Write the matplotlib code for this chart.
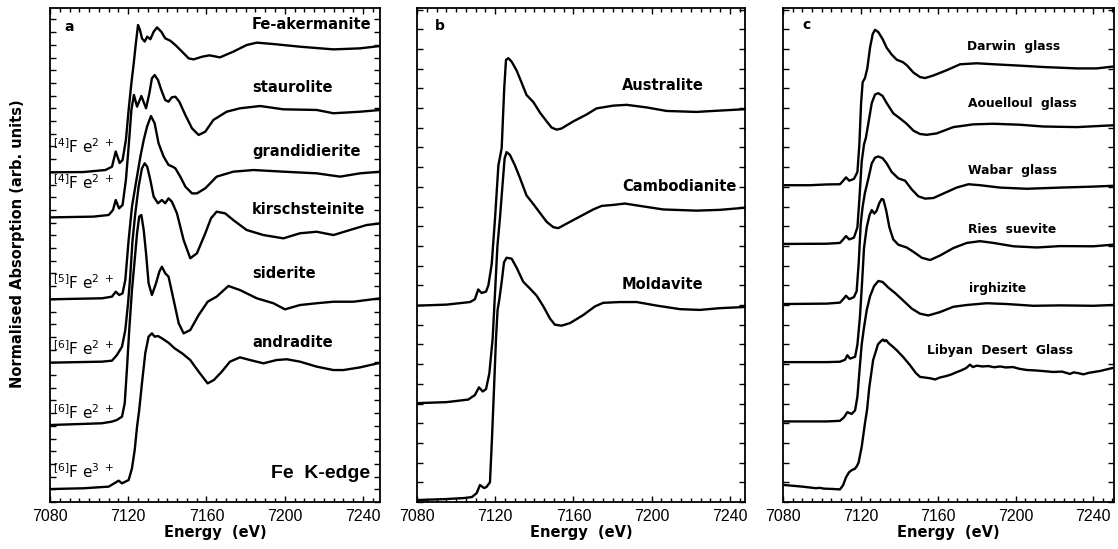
import matplotlib
matplotlib.use("Agg")
import matplotlib.pyplot as plt
from matplotlib.ticker import MultipleLocator

plt.rcParams['font.family'] = ['Liberation Sans', 'DejaVu Sans']
plt.rcParams['mathtext.fontset'] = 'dejavusans'

# ---- panel a: model compounds (energy eV, absorption arb. units incl. offset)
akermanite = [(7080, 2.596), (7097, 2.598), (7108.3, 2.614), (7111.7, 2.640), (7113.6, 2.760),
              (7115.6, 2.669), (7117.1, 2.693), (7118.8, 2.850), (7120.2, 3.087), (7121.6, 3.297),
              (7122.8, 3.454), (7123.9, 3.612), (7125.0, 3.756), (7126.0, 3.717), (7127.0, 3.651),
              (7128.4, 3.625), (7129.7, 3.664), (7131.3, 3.644), (7133.0, 3.703), (7134.7, 3.737),
              (7136.9, 3.703), (7138.9, 3.651), (7141.5, 3.632), (7144.1, 3.598), (7147.5, 3.546),
              (7150.9, 3.493), (7153.4, 3.485), (7157.7, 3.506), (7161.5, 3.517), (7166.9, 3.501),
              (7173.7, 3.546), (7180.5, 3.598), (7185.7, 3.617), (7194.2, 3.606), (7207.8, 3.585),
              (7224.9, 3.564), (7238.5, 3.572), (7249, 3.591)]
staurolite = [(7080, 2.241), (7102.2, 2.247), (7110.0, 2.260), (7112.2, 2.299), (7113.6, 2.378),
              (7115.3, 2.312), (7117.1, 2.339), (7118.8, 2.535), (7120.2, 2.798), (7121.6, 3.087),
              (7122.9, 3.205), (7124.5, 3.113), (7126.7, 3.197), (7129.1, 3.100), (7130.8, 3.218),
              (7132.1, 3.336), (7133.5, 3.362), (7135.2, 3.323), (7136.9, 3.244), (7138.9, 3.165),
              (7140.6, 3.152), (7142.3, 3.187), (7144.1, 3.191), (7146.1, 3.152), (7149.2, 3.047),
              (7152.6, 2.942), (7156.0, 2.890), (7159.4, 2.916), (7163.5, 3.008), (7170.3, 3.073),
              (7177.1, 3.100), (7187.4, 3.118), (7199.3, 3.092), (7216.3, 3.087), (7224.9, 3.061),
              (7238.5, 3.073), (7249, 3.087)]
grandidierite = [(7080, 1.596), (7106.6, 1.604), (7111.7, 1.617), (7113.6, 1.656), (7115.4, 1.630),
                 (7117.1, 1.643), (7118.5, 1.748), (7120.2, 2.063), (7121.9, 2.325), (7123.6, 2.483),
                 (7126.2, 2.719), (7127.9, 2.850), (7129.6, 2.955), (7131.6, 3.039), (7133.5, 2.982),
                 (7135.5, 2.824), (7138.1, 2.719), (7140.6, 2.654), (7142.7, 2.640), (7144.1, 2.627),
                 (7146.6, 2.562), (7149.2, 2.483), (7152.6, 2.430), (7155.1, 2.430), (7159.4, 2.470),
                 (7165.2, 2.562), (7173.7, 2.601), (7184.0, 2.614), (7199.3, 2.601), (7216.3, 2.588),
                 (7228.3, 2.562), (7238.5, 2.588), (7249, 2.601)]
kirschsteinite = [(7080, 1.097), (7106.6, 1.105), (7111.7, 1.113), (7114.2, 1.157), (7116.8, 1.223),
                  (7118.5, 1.354), (7119.9, 1.565), (7121.0, 1.774), (7122.2, 2.063), (7123.6, 2.273),
                  (7125.3, 2.483), (7127.0, 2.627), (7128.4, 2.667), (7129.7, 2.640), (7131.3, 2.535),
                  (7133.0, 2.404), (7135.2, 2.352), (7137.2, 2.378), (7138.9, 2.352), (7140.6, 2.391),
                  (7142.3, 2.365), (7144.9, 2.273), (7148.3, 2.063), (7151.7, 1.919), (7155.1, 1.958),
                  (7159.4, 2.116), (7162.3, 2.234), (7165.2, 2.286), (7169.5, 2.273), (7173.7, 2.220),
                  (7180.5, 2.142), (7189.1, 2.102), (7199.3, 2.076), (7207.8, 2.116), (7216.3, 2.128),
                  (7224.9, 2.102), (7233.4, 2.142), (7241.9, 2.181), (7249, 2.194)]
siderite = [(7080, 0.606), (7106.6, 0.620), (7111.7, 0.633), (7114.2, 0.646), (7116.8, 0.672),
            (7118.2, 0.777), (7119.3, 1.039), (7120.5, 1.354), (7121.9, 1.669), (7123.3, 1.906),
            (7124.5, 2.116), (7125.6, 2.247), (7126.7, 2.260), (7127.9, 2.142), (7129.1, 1.958),
            (7130.4, 1.722), (7132.1, 1.630), (7134.2, 1.722), (7135.9, 1.814), (7137.2, 1.853),
            (7138.9, 1.801), (7140.6, 1.774), (7143.2, 1.591), (7145.8, 1.407), (7148.3, 1.328),
            (7151.7, 1.354), (7156.0, 1.472), (7160.6, 1.577), (7165.2, 1.617), (7171.2, 1.701),
            (7177.1, 1.669), (7185.7, 1.604), (7194.2, 1.565), (7200.1, 1.517), (7207.8, 1.551),
            (7216.3, 1.565), (7224.9, 1.577), (7235.1, 1.577), (7249, 1.604)]
andradite = [(7080, 0.102), (7097.0, 0.108), (7110.0, 0.121), (7113.4, 0.152), (7115.1, 0.168),
             (7116.8, 0.147), (7120.2, 0.173), (7121.9, 0.265), (7123.3, 0.409), (7124.5, 0.593),
             (7125.6, 0.724), (7127.0, 0.934), (7128.7, 1.171), (7130.4, 1.302), (7132.1, 1.328),
             (7133.5, 1.302), (7135.2, 1.307), (7137.2, 1.289), (7140.6, 1.254), (7143.7, 1.210),
             (7147.5, 1.171), (7151.7, 1.118), (7156.0, 1.026), (7160.6, 0.934), (7163.8, 0.961),
             (7167.8, 1.026), (7172.0, 1.105), (7177.1, 1.139), (7182.2, 1.118), (7189.1, 1.092),
             (7195.9, 1.118), (7201.0, 1.124), (7207.8, 1.105), (7216.3, 1.066), (7224.9, 1.039),
             (7230.0, 1.039), (7238.5, 1.060), (7249, 1.097)]

# ---- panel b: tektites
australite = [(7080.7, 0.997), (7095.2, 1.002), (7107.1, 1.015), (7109.6, 1.029), (7111.3, 1.079),
              (7113.0, 1.061), (7115.3, 1.068), (7116.5, 1.100), (7118.2, 1.208), (7119.9, 1.440),
              (7121.6, 1.708), (7123.3, 1.797), (7124.6, 2.101), (7125.5, 2.244), (7126.7, 2.253),
              (7128.4, 2.235), (7130.9, 2.191), (7133.5, 2.128), (7136.0, 2.066), (7139.5, 2.030),
              (7142.9, 1.976), (7146.3, 1.932), (7148.8, 1.901), (7151.4, 1.890), (7153.9, 1.896),
              (7159.9, 1.932), (7166.7, 1.967), (7171.8, 1.998), (7180.3, 2.012), (7187.2, 2.016),
              (7197.4, 2.003), (7207.6, 1.985), (7222.9, 1.980), (7231.4, 1.985), (7248, 1.994)]
cambodianite = [(7080.7, 0.502), (7095.2, 0.507), (7106.2, 0.520), (7109.6, 0.543), (7111.7, 0.582),
                (7113.6, 0.561), (7115.3, 0.573), (7117.0, 0.654), (7118.7, 0.832), (7120.0, 1.083),
                (7121.1, 1.297), (7122.4, 1.440), (7123.8, 1.619), (7124.8, 1.744), (7125.8, 1.776),
                (7127.5, 1.762), (7130.1, 1.708), (7132.6, 1.646), (7136.0, 1.556), (7139.5, 1.512),
                (7142.9, 1.467), (7146.3, 1.422), (7149.7, 1.395), (7152.2, 1.390), (7156.5, 1.413),
                (7163.3, 1.449), (7170.1, 1.485), (7174.4, 1.503), (7180.3, 1.508), (7186.3, 1.515),
                (7194.0, 1.503), (7205.9, 1.485), (7222.9, 1.479), (7234.9, 1.483), (7248, 1.494)]
moldavite = [(7080.5, 0.010), (7095, 0.015), (7104, 0.020), (7108, 0.025), (7110.5, 0.045),
             (7112.2, 0.086), (7114.3, 0.071), (7115.5, 0.076), (7117.3, 0.100), (7118.3, 0.314),
             (7119.4, 0.582), (7120.4, 0.832), (7121.2, 0.975), (7122.1, 1.029), (7123.3, 1.118),
             (7124.5, 1.217), (7125.8, 1.240), (7128.4, 1.235), (7130.9, 1.190), (7134.3, 1.118),
             (7137.8, 1.083), (7141.2, 1.047), (7144.6, 0.993), (7148.0, 0.931), (7150.5, 0.900),
             (7153.9, 0.895), (7158.2, 0.908), (7165.0, 0.949), (7171.0, 0.993), (7175.2, 1.011),
             (7183.7, 1.015), (7192.3, 1.015), (7202.5, 0.997), (7214.4, 0.979), (7224.6, 0.975),
             (7234.9, 0.984), (7248, 0.990)]

# ---- panel c: impact glasses
darwin = [(7081.0, 1.608), (7093.9, 1.608), (7102.5, 1.612), (7109.4, 1.613), (7111.1, 1.631),
          (7112.5, 1.648), (7114.2, 1.631), (7116.6, 1.640), (7118.4, 1.675), (7119.4, 1.815),
          (7120.3, 2.025), (7121.1, 2.131), (7122.3, 2.152), (7123.5, 2.201), (7124.9, 2.306),
          (7126.3, 2.376), (7127.5, 2.397), (7129.2, 2.385), (7131.4, 2.350), (7133.5, 2.306),
          (7136.1, 2.271), (7138.7, 2.245), (7141.8, 2.233), (7143.8, 2.218), (7147.3, 2.180),
          (7150.7, 2.157), (7153.3, 2.152), (7157.6, 2.165), (7164.5, 2.192), (7171.4, 2.222),
          (7180.0, 2.227), (7188.6, 2.222), (7202.3, 2.215), (7214.4, 2.208), (7231.6, 2.201),
          (7241.9, 2.201), (7250, 2.210)]
aouelloul = [(7081.0, 1.310), (7102.5, 1.311), (7109.4, 1.315), (7111.1, 1.333), (7112.5, 1.350),
             (7114.2, 1.333), (7116.6, 1.342), (7118.4, 1.394), (7119.4, 1.535), (7120.6, 1.727),
             (7121.8, 1.815), (7122.8, 1.850), (7124.0, 1.920), (7125.8, 2.025), (7127.5, 2.069),
             (7129.2, 2.075), (7131.4, 2.061), (7133.5, 2.025), (7136.9, 1.973), (7140.4, 1.947),
             (7143.8, 1.920), (7147.3, 1.885), (7150.7, 1.868), (7154.2, 1.864), (7159.3, 1.871),
             (7167.9, 1.903), (7178.2, 1.917), (7188.6, 1.920), (7202.3, 1.915), (7214.4, 1.906),
             (7231.6, 1.903), (7250, 1.912)]
wabar = [(7081.0, 1.005), (7102.5, 1.007), (7109.4, 1.012), (7111.1, 1.030), (7112.5, 1.047),
         (7114.2, 1.030), (7116.6, 1.040), (7118.0, 1.070), (7119.1, 1.219), (7120.1, 1.412),
         (7121.1, 1.500), (7122.3, 1.570), (7124.0, 1.640), (7125.8, 1.719), (7127.5, 1.748),
         (7129.2, 1.754), (7131.4, 1.745), (7133.5, 1.719), (7136.1, 1.675), (7139.5, 1.643),
         (7143.0, 1.631), (7146.4, 1.587), (7149.8, 1.552), (7153.3, 1.540), (7157.6, 1.543),
         (7162.8, 1.566), (7169.6, 1.596), (7175.7, 1.613), (7181.7, 1.608), (7192.0, 1.596),
         (7205.8, 1.590), (7223.0, 1.596), (7240.2, 1.601), (7250, 1.605)]
ries = [(7081.0, 0.710), (7102.5, 0.710), (7109.4, 0.712), (7112.0, 0.722), (7113.2, 0.745),
        (7114.6, 0.728), (7117.2, 0.737), (7118.4, 0.799), (7119.7, 0.939), (7120.8, 1.114),
        (7121.8, 1.289), (7123.2, 1.394), (7124.6, 1.455), (7125.8, 1.482), (7127.1, 1.464),
        (7128.3, 1.478), (7129.7, 1.517), (7130.9, 1.538), (7131.8, 1.535), (7133.2, 1.482),
        (7134.9, 1.394), (7136.9, 1.333), (7139.5, 1.306), (7143.8, 1.292), (7147.3, 1.270),
        (7151.6, 1.240), (7155.9, 1.228), (7161.0, 1.251), (7167.9, 1.289), (7174.8, 1.315),
        (7181.7, 1.324), (7188.6, 1.315), (7198.9, 1.298), (7211.0, 1.292), (7223.0, 1.299),
        (7240.2, 1.298), (7250, 1.306)]
irghizite = [(7081.0, 0.409), (7102.5, 0.409), (7109.4, 0.412), (7111.5, 0.430), (7113.2, 0.456),
             (7115.4, 0.447), (7117.2, 0.465), (7118.4, 0.535), (7119.4, 0.658), (7120.6, 0.799),
             (7121.8, 0.886), (7123.2, 0.974), (7124.9, 1.044), (7127.0, 1.096), (7129.2, 1.122),
             (7131.4, 1.117), (7134.4, 1.088), (7137.8, 1.061), (7142.1, 1.022), (7146.4, 0.982),
             (7150.7, 0.956), (7155.0, 0.947), (7161.0, 0.964), (7167.9, 0.991), (7174.8, 1.000),
             (7185.1, 1.009), (7195.4, 1.005), (7209.2, 0.996), (7223.0, 0.998), (7240.2, 0.996),
             (7250, 1.000)]
libyan = [(7081.0, 0.086), (7090, 0.078), (7097, 0.070), (7099, 0.072), (7101, 0.068), (7106, 0.066),
          (7109.4, 0.064), (7111.0, 0.085), (7112.5, 0.125), (7114.0, 0.150), (7115.5, 0.162),
          (7117.0, 0.168), (7118.0, 0.180), (7119.0, 0.200), (7120.6, 0.280), (7122.3, 0.400),
          (7123.4, 0.470), (7124.5, 0.580), (7126.5, 0.720), (7129.0, 0.800), (7130.4, 0.815),
          (7131.6, 0.825), (7132.4, 0.816), (7133.2, 0.822), (7134.5, 0.806), (7136.5, 0.790),
          (7138.7, 0.770), (7142.1, 0.735), (7145.5, 0.695), (7148.5, 0.655), (7150.7, 0.635),
          (7153, 0.632), (7156, 0.628), (7158.5, 0.622), (7161, 0.632), (7164.5, 0.640),
          (7167, 0.648), (7169.8, 0.660), (7172, 0.668), (7174.5, 0.680), (7176.5, 0.697),
          (7178, 0.685), (7180, 0.692), (7183, 0.688), (7186, 0.690), (7189, 0.684), (7192, 0.688),
          (7195, 0.683), (7198.7, 0.685), (7202, 0.676), (7205.9, 0.670), (7210, 0.668),
          (7215, 0.664), (7219.4, 0.660), (7224, 0.662), (7228, 0.650), (7230, 0.658),
          (7232, 0.655), (7235, 0.648), (7238, 0.656), (7243.6, 0.665), (7250, 0.680)]

# labels: (text, energy, absorption)
names_a = [("Fe-akermanite", 7183.3, 3.756), ("staurolite", 7183.3, 3.260),
           ("grandidierite", 7183.3, 2.756), ("kirschsteinite", 7183.3, 2.307),
           ("siderite", 7183.3, 1.803), ("andradite", 7183.3, 1.252)]
sites_a = [(r"$^{[4]}$F e$^{2\ +}$", 2.795), (r"$^{[4]}$F e$^{2\ +}$", 2.512),
           (r"$^{[5]}$F e$^{2\ +}$", 1.724), (r"$^{[6]}$F e$^{2\ +}$", 1.205),
           (r"$^{[6]}$F e$^{2\ +}$", 0.701), (r"$^{[6]}$F e$^{3\ +}$", 0.236)]
names_b = [("Australite", 7184.8, 2.112), ("Cambodianite", 7184.8, 1.599),
           ("Moldavite", 7184.8, 1.102)]
names_c = [("Darwin  glass", 7175.0, 2.310), ("Aouelloul  glass", 7175.5, 2.025),
           ("Wabar  glass", 7175.5, 1.685), ("Ries  suevite", 7175.5, 1.381),
           ("irghizite", 7176.0, 1.086), ("Libyan  Desert  Glass", 7154.3, 0.767)]

W, H = 1118, 549
fig = plt.figure(figsize=(W / 100, H / 100), dpi=100)
ax_a = fig.add_axes([50 / W, 47 / H, 330 / W, 494 / H])
ax_b = fig.add_axes([417 / W, 47 / H, 328 / W, 494 / H])
ax_c = fig.add_axes([783 / W, 47 / H, 331 / W, 494 / H])

bold = dict(family='DejaVu Sans', fontweight='bold')


def style_axis(ax, xmax, ymax):
    ax.set_xlim(7080, xmax)
    ax.set_ylim(0, ymax)
    ax.xaxis.set_major_locator(MultipleLocator(40))
    ax.xaxis.set_minor_locator(MultipleLocator(5))
    ax.yaxis.set_major_locator(MultipleLocator(0.1))
    ax.tick_params(which='both', direction='in', top=True, right=True,
                   labelleft=False, width=1.0)
    ax.tick_params(which='major', length=4, labelsize=11.5, pad=5)
    ax.tick_params(which='minor', length=3)
    for s in ax.spines.values():
        s.set_linewidth(1.3)
    ax.set_xlabel("Energy  (eV)", fontsize=10.5, labelpad=1, **bold)


style_axis(ax_a, 7248.7, 494 / 127)
style_axis(ax_b, 7247.7, 494 / 197)
style_axis(ax_c, 7250.8, 494 / 197)

for curve in [akermanite, staurolite, grandidierite, kirschsteinite, siderite, andradite]:
    e, a = zip(*curve)
    ax_a.plot(e, a, color='black', lw=1.7, solid_joinstyle='round')
for curve in [australite, cambodianite, moldavite]:
    e, a = zip(*curve)
    ax_b.plot(e, a, color='black', lw=1.7, solid_joinstyle='round')
for curve in [darwin, aouelloul, wabar, ries, irghizite, libyan]:
    e, a = zip(*curve)
    ax_c.plot(e, a, color='black', lw=1.7, solid_joinstyle='round')

for txt, e, a in names_a:
    ax_a.text(e, a, txt, fontsize=10.5, va='center', ha='left', **bold)
for txt, a in sites_a:
    ax_a.text(7081.3, a, txt, fontsize=11, family='DejaVu Sans', va='center', ha='left')
for txt, e, a in names_b:
    ax_b.text(e, a, txt, fontsize=10.5, va='center', ha='left', **bold)
for txt, e, a in names_c:
    ax_c.text(e, a, txt, fontsize=8.8, va='center', ha='left', **bold)

ax_a.text(7243.5, 0.228, "Fe  K-edge", fontsize=14, fontweight='bold', va='center', ha='right')
ax_a.text(0.045, 0.962, "a", transform=ax_a.transAxes, fontsize=10, va='center', **bold)
ax_b.text(0.055, 0.964, "b", transform=ax_b.transAxes, fontsize=10, va='center', **bold)
ax_c.text(0.06, 0.966, "c", transform=ax_c.transAxes, fontsize=10, va='center', **bold)

fig.text(17.5 / W, 1 - 244 / H, "Normalised Absorption (arb. units)", rotation=90,
         fontsize=10.5, ha='center', va='center', **bold)

fig.savefig("out.png", dpi=100)
